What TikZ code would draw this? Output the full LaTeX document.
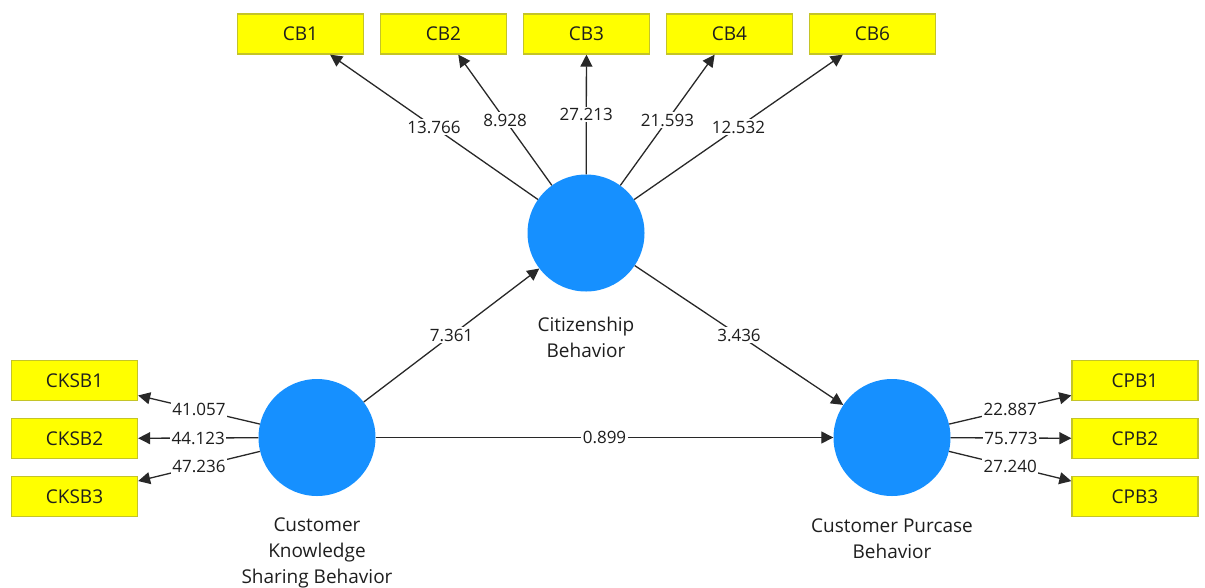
\documentclass[tikz,border=0pt]{standalone}
\usepackage{fontspec}
\setmainfont{Open Sans}
\usetikzlibrary{arrows.meta}
\definecolor{lvblue}{RGB}{22,144,255}
\definecolor{mvyellow}{RGB}{255,255,0}
\definecolor{mvedge}{RGB}{196,196,40}
\definecolor{pathgray}{RGB}{40,40,40}
\definecolor{ink}{RGB}{30,30,30}
\begin{document}
\begin{tikzpicture}[x=1pt,y=-1pt,
  latent/.style={circle,fill=lvblue,minimum size=117pt,inner sep=0pt},
  manifest/.style={draw=mvedge,line width=1.3pt,fill=mvyellow,minimum width=126pt,
    minimum height=40pt,inner sep=0pt,text=ink,font=\fontsize{19}{22}\selectfont},
  link/.style={draw=pathgray,line width=1.3pt,-{Triangle[length=12pt,width=12pt]}},
  coef/.style={fill=white,inner sep=1.5pt,text=ink,font=\fontsize{17}{20}\selectfont},
  caption/.style={align=center,text=ink,font=\fontsize{19}{26}\selectfont}]
\useasboundingbox (0,0) rectangle (1205,587);

% latent variables
\node[latent] (cb)   at (586,233) {};
\node[latent] (cksb) at (317,437.5) {};
\node[latent] (cpb)  at (892,437.5) {};

\node[caption] at (586,337) {Citizenship\\Behavior};
\node[caption] at (317,553) {Customer\\Knowledge\\Sharing Behavior};
\node[caption] at (892,539) {Customer Purcase\\Behavior};

% indicators
\node[manifest] (cb1) at (300.5,34) {CB1};
\node[manifest] (cb2) at (443.5,34) {CB2};
\node[manifest] (cb3) at (586.5,34) {CB3};
\node[manifest] (cb4) at (729.5,34) {CB4};
\node[manifest] (cb6) at (872.5,34) {CB6};

\node[manifest] (cksb1) at (74.5,380.5) {CKSB1};
\node[manifest] (cksb2) at (74.5,438.5) {CKSB2};
\node[manifest] (cksb3) at (74.5,496.5) {CKSB3};

\node[manifest] (cpb1) at (1135,380.5) {CPB1};
\node[manifest] (cpb2) at (1135,438.5) {CPB2};
\node[manifest] (cpb3) at (1135,496.5) {CPB3};

% outer loadings
\draw[link] (cb) -- node[coef] {13.766} (cb1);
\draw[link] (cb) -- node[coef] {8.928} (cb2);
\draw[link] (cb) -- node[coef] {27.213} (cb3);
\draw[link] (cb) -- node[coef] {21.593} (cb4);
\draw[link] (cb) -- node[coef] {12.532} (cb6);

\draw[link] (cksb) -- node[coef] {41.057} (cksb1);
\draw[link] (cksb) -- node[coef] {44.123} (cksb2);
\draw[link] (cksb) -- node[coef] {47.236} (cksb3);

\draw[link] (cpb) -- node[coef] {22.887} (cpb1);
\draw[link] (cpb) -- node[coef] {75.773} (cpb2);
\draw[link] (cpb) -- node[coef] {27.240} (cpb3);

% structural paths
\draw[link] (cksb) -- node[coef] {7.361} (cb);
\draw[link] (cb) -- node[coef] {3.436} (cpb);
\draw[link] (cksb) -- node[coef] {0.899} (cpb);
\end{tikzpicture}
\end{document}
